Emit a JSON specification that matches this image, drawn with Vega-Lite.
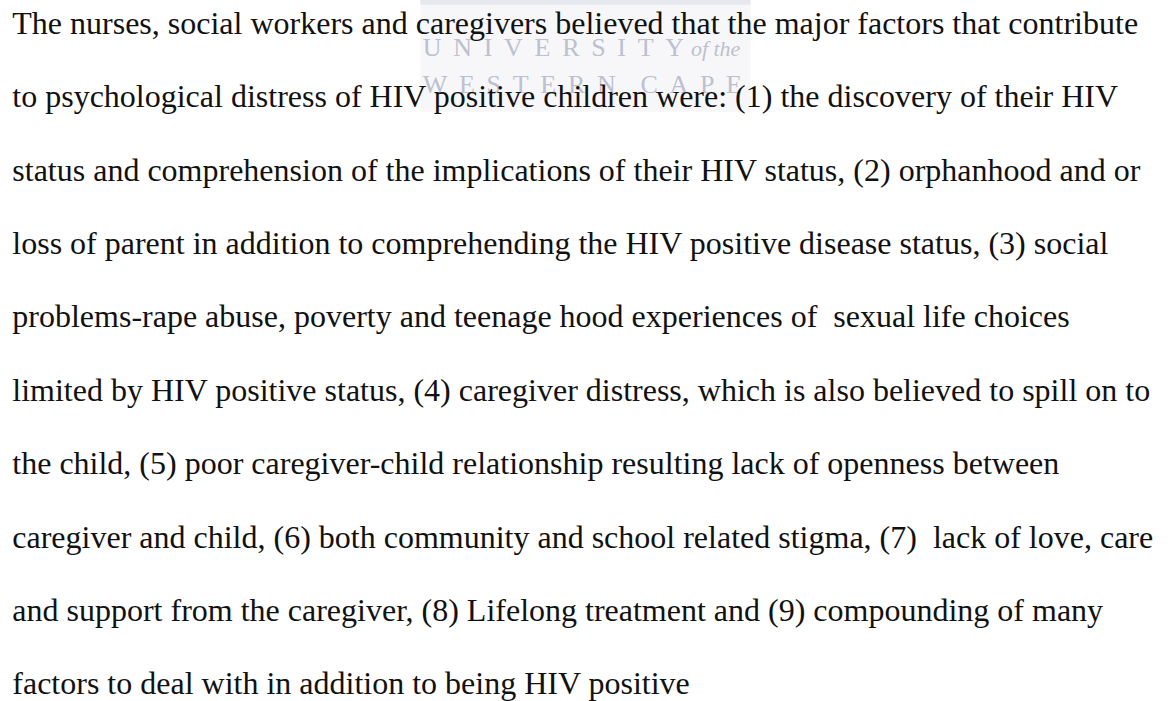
{
  "$schema": "https://vega.github.io/schema/vega-lite/v6.json",
  "width": 1171,
  "height": 701,
  "padding": 0,
  "autosize": {"type": "fit", "contains": "padding"},
  "background": "#ffffff",
  "config": {"view": {"stroke": null}},
  "datasets": {
    "lines": [
      {"line": 1, "text": "The nurses, social workers and caregivers believed that the major factors that contribute"},
      {"line": 2, "text": "to psychological distress of HIV positive children were: (1) the discovery of their HIV"},
      {"line": 3, "text": "status and comprehension of the implications of their HIV status, (2) orphanhood and or"},
      {"line": 4, "text": "loss of parent in addition to comprehending the HIV positive disease status, (3) social"},
      {"line": 5, "text": "problems-rape abuse, poverty and teenage hood experiences of\u00a0 sexual life choices"},
      {"line": 6, "text": "limited by HIV positive status, (4) caregiver distress, which is also believed to spill on to"},
      {"line": 7, "text": "the child, (5) poor caregiver-child relationship resulting lack of openness between"},
      {"line": 8, "text": "caregiver and child, (6) both community and school related stigma, (7)\u00a0 lack of love, care"},
      {"line": 9, "text": "and support from the caregiver, (8) Lifelong treatment and (9) compounding of many"},
      {"line": 10, "text": "factors to deal with in addition to being HIV positive"}
    ],
    "box": [
      {"part": "panel", "left": 35.9, "right": 64.1, "top": 0.5387, "bottom": 2.06},
      {"part": "bar", "left": 35.9, "right": 64.1, "top": 0.5387, "bottom": 0.605}
    ],
    "caps": [
      {"line": 1.298, "pos": 36.1, "text": "U\u00a0\u2009N\u00a0\u2009I\u00a0\u2009V\u00a0\u2009E\u00a0\u2009R\u00a0\u2009S\u00a0\u2009I\u00a0\u2009T\u00a0\u2009Y"},
      {"line": 1.80, "pos": 36.1, "text": "W\u00a0\u2009E\u00a0\u2009S\u00a0\u2009T\u00a0\u2009E\u00a0\u2009R\u00a0\u2009N\u00a0\u00a0\u00a0\u2009C\u00a0\u2009A\u00a0\u2009P\u00a0\u2009E"}
    ],
    "small": [
      {"line": 1.298, "pos": 59.0, "text": "of the"}
    ]
  },
  "layer": [
    {
      "data": {"name": "box"},
      "mark": {"type": "rect"},
      "encoding": {
        "x": {"field": "left", "type": "quantitative", "scale": {"domain": [0, 100]}, "axis": null},
        "x2": {"field": "right"},
        "y": {"field": "top", "type": "quantitative", "scale": {"domain": [0.5387, 10.05], "reverse": true}, "axis": null},
        "y2": {"field": "bottom"},
        "color": {"field": "part", "type": "nominal", "scale": {"domain": ["panel", "bar"], "range": ["#f7f7f9", "#e6e8f0"]}, "legend": null}
      }
    },
    {
      "data": {"name": "caps"},
      "mark": {"type": "text", "font": "Liberation Serif", "fontSize": 26, "align": "left", "baseline": "alphabetic", "color": "#bcc0cf"},
      "encoding": {
        "x": {"field": "pos", "type": "quantitative", "scale": {"domain": [0, 100]}, "axis": null},
        "y": {"field": "line", "type": "quantitative", "scale": {"domain": [0.5387, 10.05], "reverse": true}, "axis": null},
        "text": {"field": "text"}
      }
    },
    {
      "data": {"name": "small"},
      "mark": {"type": "text", "font": "Liberation Serif", "fontSize": 22, "fontStyle": "italic", "align": "left", "baseline": "alphabetic", "color": "#bcc0cf"},
      "encoding": {
        "x": {"field": "pos", "type": "quantitative", "scale": {"domain": [0, 100]}, "axis": null},
        "y": {"field": "line", "type": "quantitative", "scale": {"domain": [0.5387, 10.05], "reverse": true}, "axis": null},
        "text": {"field": "text"}
      }
    },
    {
      "data": {"name": "lines"},
      "mark": {"type": "text", "font": "Liberation Serif", "fontSize": 32, "align": "left", "baseline": "alphabetic", "color": "#111111"},
      "encoding": {
        "x": {"datum": 1.05, "type": "quantitative", "scale": {"domain": [0, 100]}, "axis": null},
        "y": {"field": "line", "type": "quantitative", "scale": {"domain": [0.5387, 10.05], "reverse": true}, "axis": null},
        "text": {"field": "text"}
      }
    }
  ]
}
